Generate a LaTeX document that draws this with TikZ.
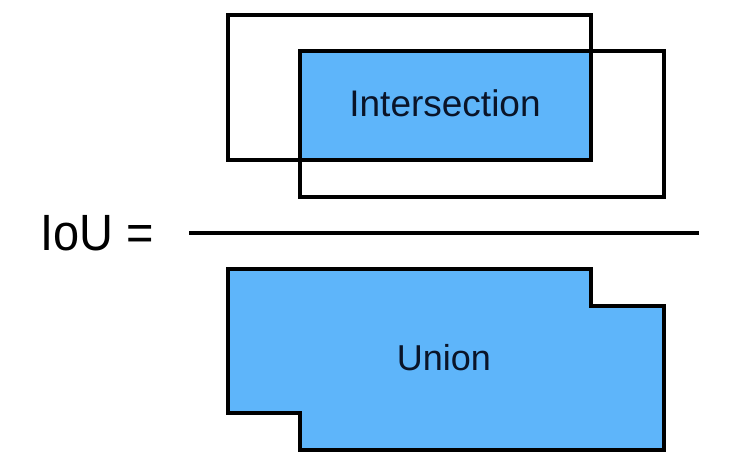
\documentclass[tikz,border=0pt]{standalone}
\usepackage{fontspec}
\setmainfont{Liberation Sans}
\usepackage{tikz}
\pgfdeclarelayer{background}
\pgfdeclarelayer{foreground}
\pgfsetlayers{background,main,foreground}
\definecolor{ioublue}{RGB}{94,181,250}
\definecolor{ioutext}{RGB}{10,20,40}

\begin{document}
\begin{tikzpicture}[x=0.5pt,y=-0.5pt]
\useasboundingbox (0,0) rectangle (745,460);
\begin{pgfonlayer}{background}
\fill[ioublue] (300,51) rectangle (591,160); %overlap
\end{pgfonlayer}
\draw[line width=2pt] (228,15) rectangle (591,160); %box a
\draw[line width=2pt] (300,51) rectangle (664,197); %box b
\node[anchor=base,text=ioutext,inner sep=0pt] (inter) at (445,117) {\fontsize{18.5}{20}\selectfont Intersection};
% fraction
\node[anchor=base west,inner sep=0pt,xscale=0.92] (iou) at (40,250) {\fontsize{25.5}{28}\selectfont IoU =};
\coordinate (barl) at (189,233.5);
\coordinate (barr) at (699,233.5);
\draw[line width=2pt] (barl) -- (barr);
% union
\draw[line width=2pt,fill=ioublue] (228,269) -- (591,269) -- (591,306) -- (664,306) -- (664,450) -- (300,450) -- (300,413) -- (228,413) -- cycle;
\node[anchor=base,text=ioutext,inner sep=0pt] (union) at (444,370) {\fontsize{18}{20}\selectfont Union};
\end{tikzpicture}
\end{document}
